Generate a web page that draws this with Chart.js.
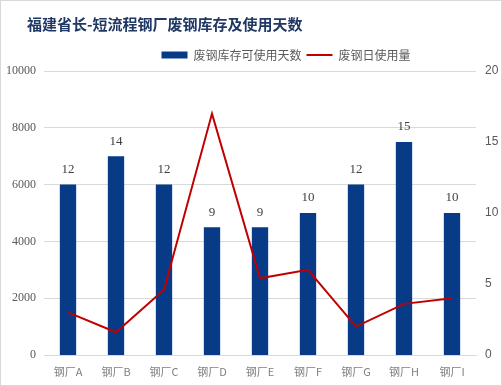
<!DOCTYPE html>
<html>
<head>
<meta charset="utf-8">
<script src="https://cdn.jsdelivr.net/npm/chart.js@4"></script>
<style>
  html, body { margin: 0; padding: 0; background: #fff; }
  #wrap { width: 502px; height: 386px; box-sizing: border-box; border: 1px solid #d9d9d9; }
</style>
</head>
<body>
<div id="wrap"><canvas id="chart" width="500" height="384"></canvas></div>
<script>
// 数据
const categories = ['钢厂A', '钢厂B', '钢厂C', '钢厂D', '钢厂E', '钢厂F', '钢厂G', '钢厂H', '钢厂I'];
const stockDays = [12, 14, 12, 9, 9, 10, 12, 15, 10];          // 废钢库存可使用天数 (右轴)
const dailyUse = [1500, 800, 2300, 8500, 2700, 3000, 1000, 1800, 2000]; // 废钢日使用量 (左轴)

// 柱顶数值
const barLabels = {
    id: 'barLabels',
    afterDatasetsDraw(chart) {
        const ctx = chart.ctx;
        const meta = chart.getDatasetMeta(0);
        ctx.save();
        ctx.font = '13px "Liberation Serif"';
        ctx.fillStyle = '#404040';
        ctx.textAlign = 'center';
        ctx.textBaseline = 'middle';
        meta.data.forEach((bar, i) => {
            ctx.fillText(stockDays[i], bar.x, bar.y - 15);
        });
        ctx.restore();
    }
};

// 标题和图例的水平位置
const shiftBlocks = {
    id: 'shiftBlocks',
    afterLayout(chart) {
        if (chart.titleBlock) {
            chart.titleBlock.left += 26;
            chart.titleBlock.right += 26;
        }
        if (chart.legend) {
            chart.legend.left += 35;
            chart.legend.right += 35;
        }
    }
};

new Chart(document.getElementById('chart'), {
    data: {
        labels: categories,
        datasets: [
            {
                type: 'bar',
                label: '废钢库存可使用天数',
                data: stockDays,
                yAxisID: 'yRight',
                backgroundColor: '#073a87',
                borderWidth: 0,
                pointStyle: 'rect',
                barPercentage: 0.34,
                categoryPercentage: 1,
                order: 1
            },
            {
                type: 'line',
                label: '废钢日使用量',
                data: dailyUse,
                yAxisID: 'yLeft',
                borderColor: '#c00000',
                backgroundColor: '#c00000',
                borderWidth: 2,
                pointRadius: 0,
                pointStyle: 'line',
                tension: 0,
                order: 0
            }
        ]
    },
    options: {
        responsive: false,
        animation: false,
        layout: { padding: { top: 0, bottom: 7, left: 0, right: 0 } },
        plugins: {
            title: {
                display: true,
                text: '福建省长-短流程钢厂废钢库存及使用天数',
                align: 'start',
                color: '#1f3864',
                font: { family: '"Noto Sans CJK SC"', size: 15, weight: 'bold' },
                padding: { top: 14, bottom: 11 }
            },
            legend: {
                labels: {
                    usePointStyle: true,
                    pointStyleWidth: 26,
                    boxHeight: 7,
                    padding: 5,
                    color: '#595959',
                    font: { family: '"Noto Sans CJK SC"', size: 12 },
                    sort: (a, b) => a.datasetIndex - b.datasetIndex
                }
            },
            tooltip: { enabled: false }
        },
        scales: {
            x: {
                offset: true,
                grid: { display: false, drawTicks: false },
                border: { color: '#d9d9d9' },
                ticks: {
                    color: '#7f7f7f',
                    padding: 10,
                    font: { family: '"Noto Sans CJK SC"', size: 11 }
                },
                afterFit(scale) { scale.height = 23; }
            },
            yLeft: {
                position: 'left',
                min: 0,
                max: 10000,
                ticks: {
                    stepSize: 2000,
                    padding: 8,
                    color: '#595959',
                    font: { family: '"Liberation Serif"', size: 12 },
                    callback: v => String(v)
                },
                grid: { color: '#d9d9d9', drawTicks: false },
                border: { display: false },
                afterFit(scale) { scale.width = 43; }
            },
            yRight: {
                position: 'right',
                min: 0,
                max: 20,
                ticks: {
                    stepSize: 5,
                    padding: 9,
                    color: '#595959',
                    font: { family: '"Liberation Sans"', size: 12 }
                },
                grid: { display: false, drawTicks: false },
                border: { display: false },
                afterFit(scale) { scale.width = 25; }
            }
        }
    },
    plugins: [barLabels, shiftBlocks]
});
</script>
</body>
</html>
